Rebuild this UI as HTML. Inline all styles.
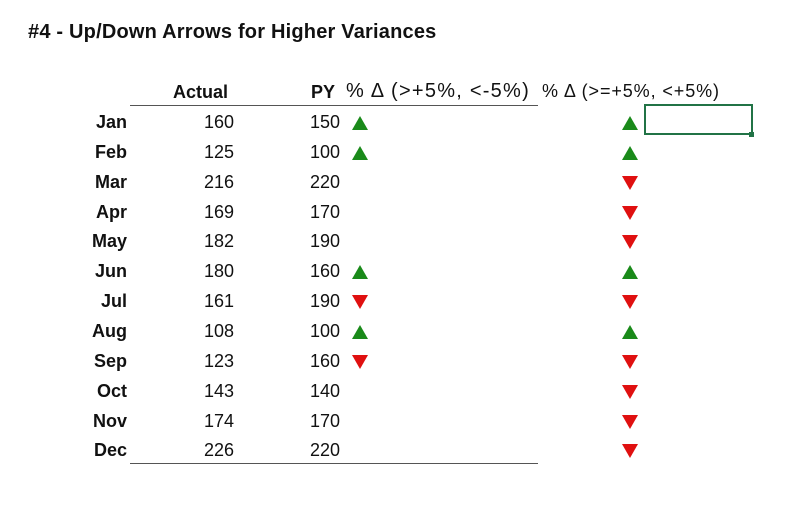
<!DOCTYPE html>
<html><head><style>
body{margin:0;width:800px;height:515px;background:#fff;position:relative;overflow:hidden;font-family:"Liberation Sans",sans-serif;color:#111}
.a{position:absolute;white-space:nowrap}
.t{left:28px;top:21px;font-size:20px;font-weight:bold;letter-spacing:0.2px}
.h{font-size:18px;font-weight:bold;top:82px}
.m{font-size:18px;font-weight:bold;width:100px;text-align:right;left:27px}
.n{font-size:18px;text-align:right;width:80px}
.up{width:0;height:0;border-left:8px solid transparent;border-right:8px solid transparent;border-bottom:14px solid #1a8a1a}
.dn{width:0;height:0;border-left:8px solid transparent;border-right:8px solid transparent;border-top:14px solid #e01010}
.ln{position:absolute;height:1px;background:#555;left:130px;width:408px}
</style></head><body>
<div class="a t">#4 - Up/Down Arrows for Higher Variances</div>
<div class="a h" style="left:173px">Actual</div>
<div class="a h" style="left:311px">PY</div>
<div class="a" style="left:346px;top:80px;font-size:20px;letter-spacing:1.25px">% Δ (&gt;+5%, &lt;-5%)</div>
<div class="a" style="left:542px;top:81px;font-size:18px;letter-spacing:0.9px">% Δ (&gt;=+5%, &lt;+5%)</div>
<div class="ln" style="top:105px"></div>
<div class="ln" style="top:463px"></div>
<div class="a" style="left:644px;top:104px;width:109px;height:31px;border:2px solid #217346;box-sizing:border-box"></div>
<div class="a" style="left:749px;top:132px;width:5px;height:5px;background:#217346"></div>
<div id="rows"></div>
<script>
var d=[["Jan",160,150,"up","up"],["Feb",125,100,"up","up"],["Mar",216,220,"","dn"],["Apr",169,170,"","dn"],["May",182,190,"","dn"],["Jun",180,160,"up","up"],["Jul",161,190,"dn","dn"],["Aug",108,100,"up","up"],["Sep",123,160,"dn","dn"],["Oct",143,140,"","dn"],["Nov",174,170,"","dn"],["Dec",226,220,"","dn"]];
var h="";
d.forEach(function(r,i){var y=112+i*29.85;
h+='<div class="a m" style="top:'+y+'px">'+r[0]+'</div>';
h+='<div class="a n" style="left:154px;top:'+y+'px">'+r[1]+'</div>';
h+='<div class="a n" style="left:260px;top:'+y+'px">'+r[2]+'</div>';
if(r[3])h+='<div class="a '+r[3]+'" style="left:352px;top:'+(y+4)+'px"></div>';
h+='<div class="a '+r[4]+'" style="left:622px;top:'+(y+4)+'px"></div>';});
document.getElementById("rows").innerHTML=h;
</script>
</body></html>
